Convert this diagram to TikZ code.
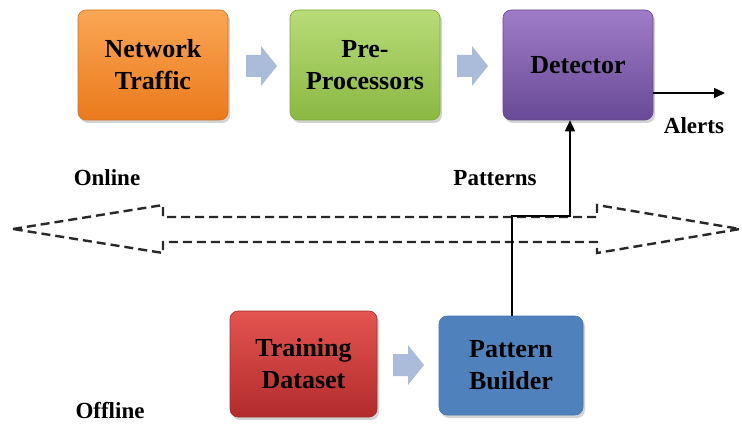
\documentclass[tikz,border=0pt]{standalone}
\usepackage{fontspec}
\setmainfont{Liberation Serif}
\usetikzlibrary{arrows.meta,shadows}

\definecolor{ntTop}{RGB}{250,166,84}
\definecolor{ntBot}{RGB}{234,122,28}
\definecolor{ntEdge}{RGB}{214,112,30}
\definecolor{ppTop}{RGB}{184,220,120}
\definecolor{ppBot}{RGB}{138,184,66}
\definecolor{ppEdge}{RGB}{128,170,60}
\definecolor{dtTop}{RGB}{160,124,200}
\definecolor{dtBot}{RGB}{104,74,150}
\definecolor{dtEdge}{RGB}{100,72,140}
\definecolor{tdTop}{RGB}{228,84,80}
\definecolor{tdBot}{RGB}{178,44,44}
\definecolor{tdEdge}{RGB}{170,44,44}
\definecolor{pbFill}{RGB}{79,129,189}
\definecolor{pbEdge}{RGB}{70,116,172}
\definecolor{chevron}{RGB}{170,188,218}
\definecolor{dashgray}{RGB}{40,40,40}

\tikzset{
  box/.style={rounded corners=8pt, minimum width=150pt, minimum height=110pt,
    align=center, font=\fontsize{26}{32}\selectfont\bfseries, text=black,
    line width=0.6pt,
    drop shadow={shadow xshift=2pt, shadow yshift=-3pt, opacity=0.35}},
  tag/.style={font=\fontsize{23}{28}\selectfont\bfseries, text=black},
  link/.style={line width=1.4pt, black},
  tip/.style={-{Triangle[length=11pt,width=10pt]}},
  bigdash/.style={draw=dashgray, line width=2.4pt, dash pattern=on 9pt off 5pt},
  pics/chev/.style={code={
    \fill[chevron] (0,-11) -- (15,-11) -- (15,-20) -- (31,0) -- (15,20)
      -- (15,11) -- (0,11) -- cycle;}}
}

\begin{document}
\begin{tikzpicture}[x=1pt,y=-1pt]
\useasboundingbox (0,0) rectangle (742,425);

% online pipeline
\node[box, top color=ntTop, bottom color=ntBot, draw=ntEdge]
  (nt) at (153,65) {Network\\Traffic};
\node[box, top color=ppTop, bottom color=ppBot, draw=ppEdge]
  (pp) at (365,65) {Pre-\\Processors};
\node[box, top color=dtTop, bottom color=dtBot, draw=dtEdge]
  (dt) at (578,65) {Detector};

% offline pipeline
\node[box, minimum width=147pt, minimum height=106pt,
  top color=tdTop, bottom color=tdBot, draw=tdEdge]
  (td) at (303.5,364) {Training\\Dataset};
\node[box, minimum width=144pt, minimum height=99pt, drop shadow={opacity=0},
  fill=pbFill, draw=pbEdge]
  (pb) at (511,365.5) {Pattern\\Builder};

% flow chevrons between stages
\pic at (246,66) {chev};
\pic at (457,66) {chev};
\pic at (393,365) {chev};

% online / offline boundary
\draw[bigdash] (13,229) -- (163,205) -- (163,217) -- (597,217) -- (597,205)
  -- (740,229) -- (597,253) -- (597,242) -- (163,242) -- (163,253) -- cycle;

% labels
\node[tag] (online) at (107,178) {Online};
\node[tag] (offline) at (110,411) {Offline};
\node[tag] (patterns) at (495,178) {Patterns};
\node[tag] (alerts) at (694,126) {Alerts};

% connectors
\coordinate (split) at (512,216);
\coordinate (turn) at (570,216);
\draw[link, tip] (pb.north -| split) -- (split) -- (turn) -- (dt.south -| turn);

\coordinate (alertend) at (725,93);
\draw[link, tip] (dt.east |- alertend) -- (alertend);
\end{tikzpicture}
\end{document}
